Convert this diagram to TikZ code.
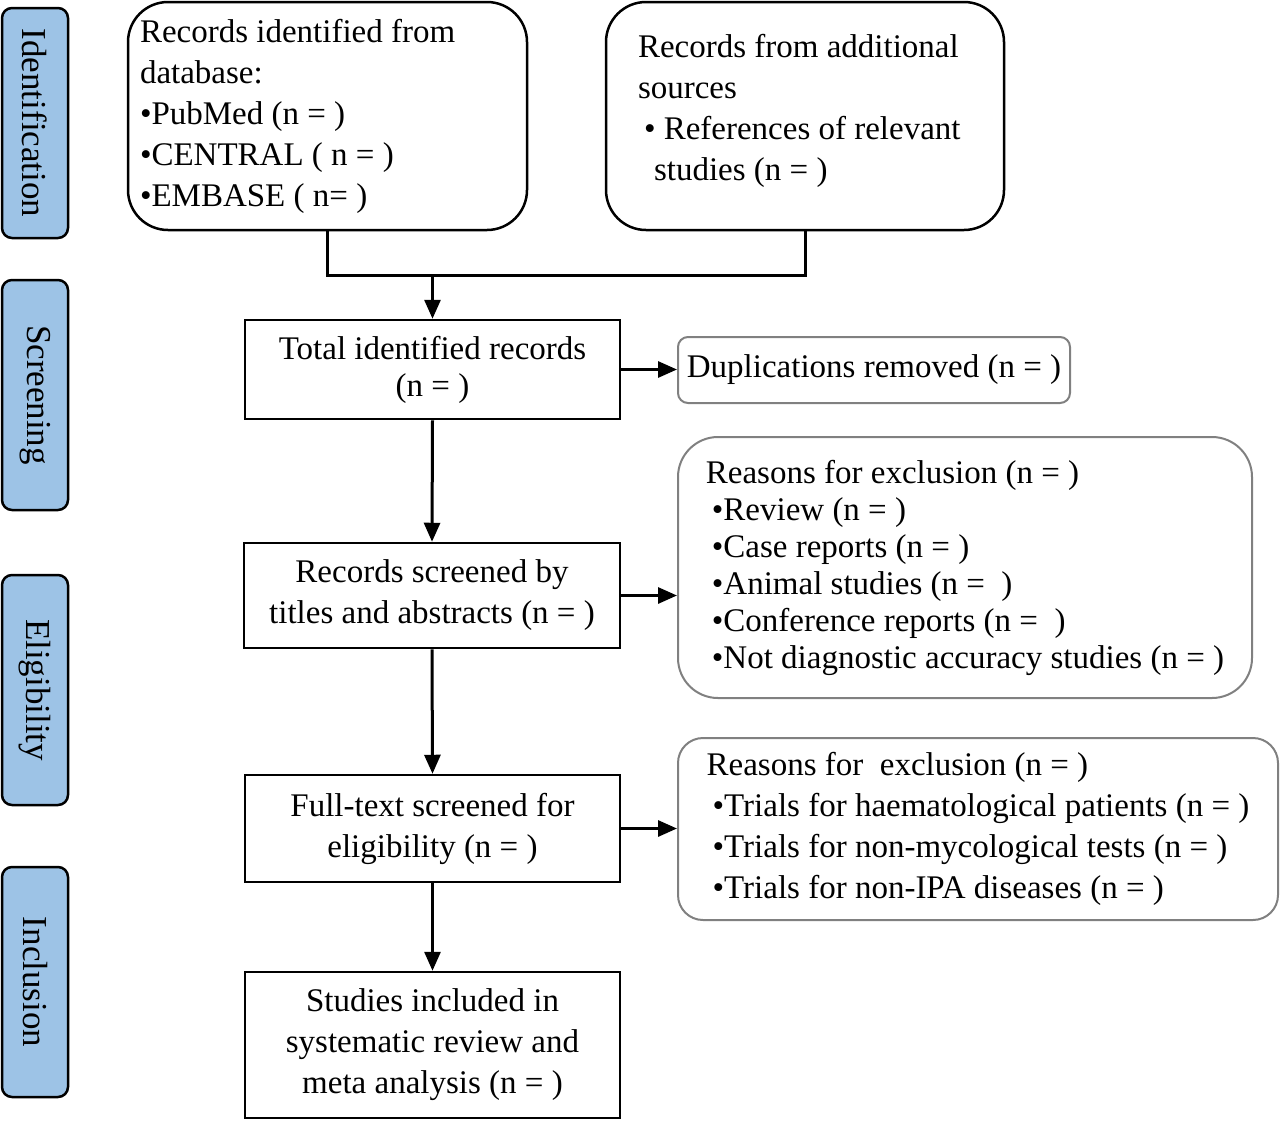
\documentclass[tikz,border=0pt]{standalone}
\usepackage{fontspec}
\setmainfont{Liberation Serif}
\usetikzlibrary{arrows.meta}
\definecolor{sideblue}{HTML}{9DC3E6}
\definecolor{boxgray}{HTML}{808080}
\begin{document}
\begin{tikzpicture}[x=1pt,y=-1pt,
  font=\fontsize{33}{41}\selectfont,
  sidebox/.style={draw=black,line width=2.5pt,fill=sideblue,rounded corners=10pt,
    rotate=-90,minimum width=230pt,minimum height=66pt,inner sep=0pt,
    font=\fontsize{35}{41}\selectfont},
  srcbox/.style={draw=black,line width=2.5pt,rounded corners=40pt,align=flush left,inner xsep=12pt},
  flowbox/.style={draw=black,line width=2.5pt,align=center,inner sep=0pt},
  grayrbox/.style={draw=boxgray,line width=2pt,align=left,inner sep=0pt},
  conn/.style={line width=3pt},
  arr/.style={line width=3pt,-{Triangle[length=19pt,width=16pt]}},
]
\useasboundingbox (0,0) rectangle (1280,1120);

% side labels
\node[sidebox] (sid) at (35,123) {Identification};
\node[sidebox] (ssc) at (35,395) {Screening};
\node[sidebox] (sel) at (35,690) {Eligibility};
\node[sidebox] (sin) at (35,982) {Inclusion};

% source boxes
\node[srcbox,minimum width=399pt,minimum height=228pt,text width=375pt] (A) at (327.5,116)
 {Records identified from\\database:\\\textbullet PubMed (n = )\\\textbullet CENTRAL ( n = )\\\textbullet EMBASE ( n= )};
\node[srcbox,minimum width=398pt,minimum height=228pt,text width=334pt] (B) at (805,116)
 {Records from additional\\sources\\\hspace{6pt}\textbullet\ References of relevant\\\hspace{16pt}studies (n = )\\[-24pt]\mbox{}};

% flow boxes
\node[flowbox,minimum width=375pt,minimum height=99pt,font=\fontsize{33}{37}\selectfont] (T) at (432.5,369.5)
 {Total identified records\\(n = )};
\node[flowbox,minimum width=376pt,minimum height=105pt] (S) at (432,595.5)
 {Records screened by\\titles and abstracts (n = )};
\node[flowbox,minimum width=375pt,minimum height=107pt] (F) at (432.5,828.5)
 {Full-text screened for\\eligibility (n = )};
\node[flowbox,minimum width=375pt,minimum height=146pt] (I) at (432.5,1045)
 {Studies included in\\systematic review and\\meta analysis (n = )};

% exclusion boxes
\node[grayrbox,rounded corners=10pt,minimum width=392pt,minimum height=66pt,align=center] (D) at (874,370)
 {Duplications removed (n = )};
\node[grayrbox,rounded corners=40pt,minimum width=574pt,minimum height=261pt,
  font=\fontsize{33}{37}\selectfont] (R1) at (965,567.5)
 {Reasons for exclusion (n = )\\
  \hspace{6pt}\textbullet Review (n = )\\
  \hspace{6pt}\textbullet Case reports (n = )\\
  \hspace{6pt}\textbullet Animal studies (n = ~)\\
  \hspace{6pt}\textbullet Conference reports (n = ~)\\
  \hspace{6pt}\textbullet Not diagnostic accuracy studies (n = )};
\node[grayrbox,rounded corners=25pt,minimum width=600pt,minimum height=182pt] (R2) at (978,829)
 {Reasons for ~exclusion (n = )\\
  \hspace{6pt}\textbullet Trials for haematological patients (n = )\\
  \hspace{6pt}\textbullet Trials for non-mycological tests (n = )\\
  \hspace{6pt}\textbullet Trials for non-IPA diseases (n = )};

% connectors
\coordinate (j) at (432.5,275);
\draw[conn] (A.south) -- (A.south |- j) -- (B.south |- j) -- (B.south);
\draw[arr] (j) -- (T.north);
\draw[arr] (T.east) -- (T.east -| D.west);
\draw[arr] (T.south) -- (S.north);
\draw[arr] (S.east) -- (S.east -| R1.west);
\draw[arr] (S.south) -- (F.north);
\draw[arr] (F.east) -- (F.east -| R2.west);
\draw[arr] (F.south) -- (I.north);
\end{tikzpicture}
\end{document}
